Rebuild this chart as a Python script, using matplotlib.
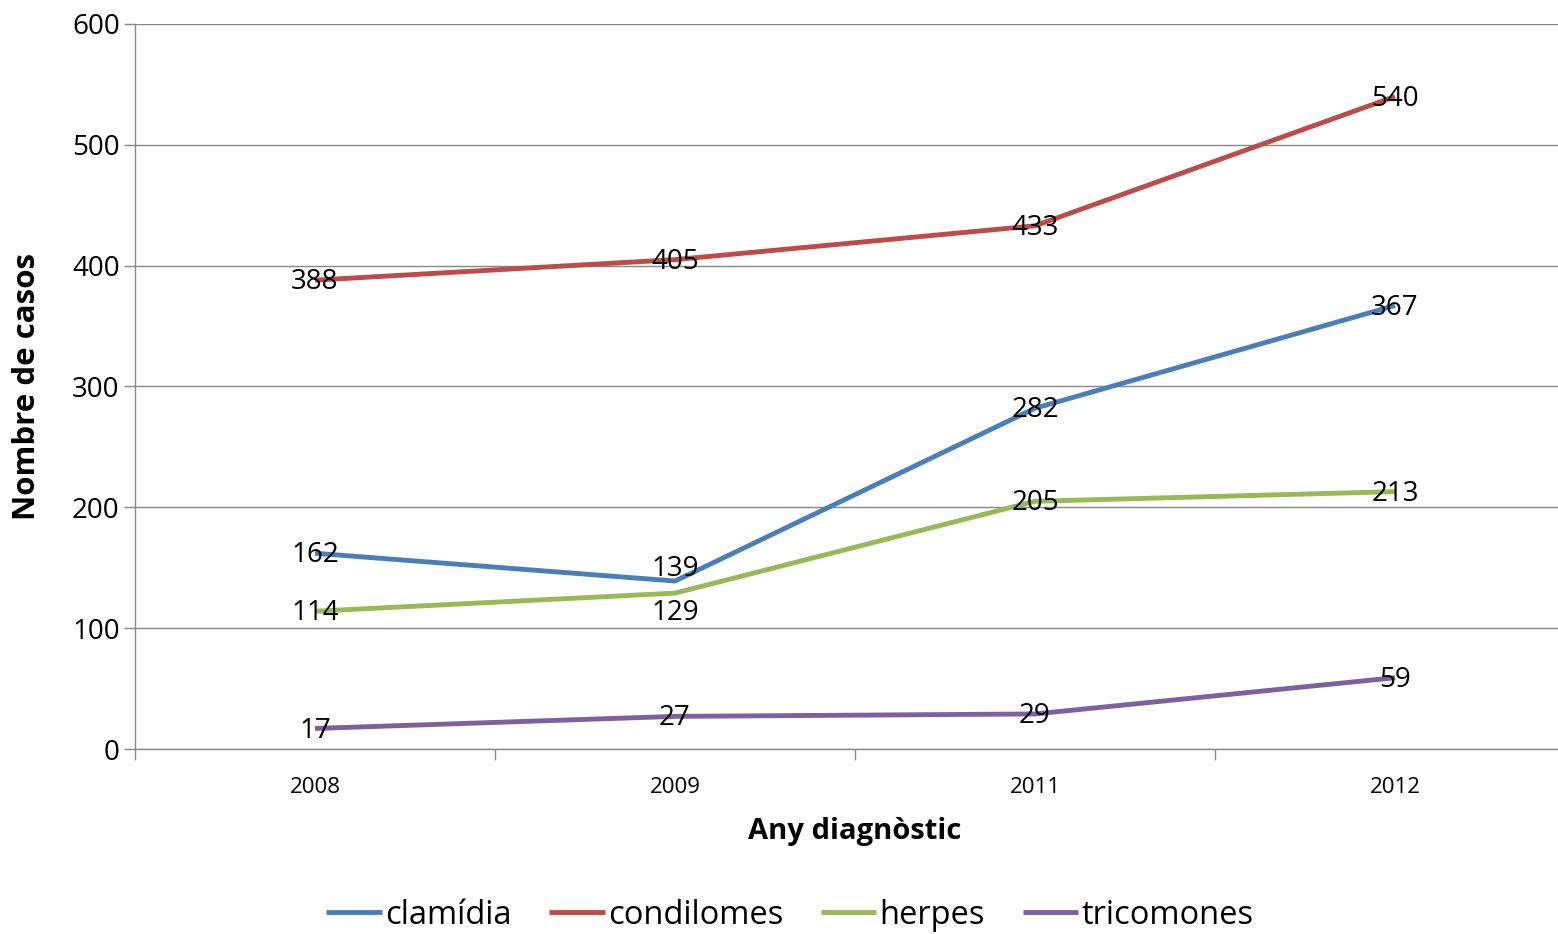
import matplotlib
matplotlib.use("Agg")
import matplotlib.pyplot as plt
import numpy as np

years = ["2008", "2009", "2011", "2012"]
series_names = ["clamídia", "condilomes", "herpes", "tricomones"]
clamidia = [162, 139, 282, 367]
condilomes = [388, 405, 433, 540]
herpes = [114, 129, 205, 213]
tricomones = [17, 27, 29, 59]
colors = ["#4A7EBB", "#BE4B48", "#98B954", "#7D60A0"]

plt.rcParams['font.family'] = ['Open Sans', 'DejaVu Sans']

W, H = 1558, 934
fig = plt.figure(figsize=(W/100, H/100), dpi=100)
left, right, top, bottom = 135, 1575, 24, 749
ax = fig.add_axes([left/W, 1-bottom/H, (right-left)/W, (bottom-top)/H])

# label offsets in points (series index, point index) -> dy
label_dy = {(0, 1): 9, (2, 1): -14}

x = np.arange(len(years))
for si, (name, vals, c) in enumerate(zip(series_names, [clamidia, condilomes, herpes, tricomones], colors)):
    ax.plot(x, vals, color=c, lw=3.5, label=name, solid_capstyle='butt')
    for pi, (xi, v) in enumerate(zip(x, vals)):
        dy = label_dy.get((si, pi), -1.5)
        ax.annotate(str(v), (xi, v), xytext=(0, dy), textcoords='offset points',
                    ha='center', va='center', fontsize=20, color='black')

ax.set_xlim(-0.5, 3.5)
ax.set_ylim(0, 600)
ax.set_yticks(range(0, 601, 100))
ax.set_xticks(x)
ax.set_xticklabels(years, fontsize=16)
ax.set_xticks(np.arange(-0.5, 3.6, 1), minor=True)
ax.tick_params(axis='x', which='major', length=0, pad=20)
ax.tick_params(axis='x', which='minor', length=8, color='#888888', width=1)
ax.tick_params(axis='y', labelsize=20, length=8, color='#888888', width=1, pad=3)
ax.grid(axis='y', color='#888888', lw=1)
ax.set_axisbelow(True)
for s in ['top', 'right']:
    ax.spines[s].set_visible(False)
for s in ['left', 'bottom']:
    ax.spines[s].set_color('#888888')
    ax.spines[s].set_linewidth(1)

ax.set_ylabel("Nombre de casos", fontsize=22.5, fontweight='bold')
ax.yaxis.set_label_coords((42 - left) / (right - left), 0.5)
fig.text(855/W, 1-832/H, "Any diagnòstic", fontsize=21, fontweight='bold', ha='center', va='center')

leg = fig.legend(loc='center', bbox_to_anchor=(790/W, 1-915/H), ncol=4, frameon=False,
                 fontsize=23.5, handlelength=1.7, handletextpad=0.1, columnspacing=1.15)

fig.savefig("out.png", dpi=100)
